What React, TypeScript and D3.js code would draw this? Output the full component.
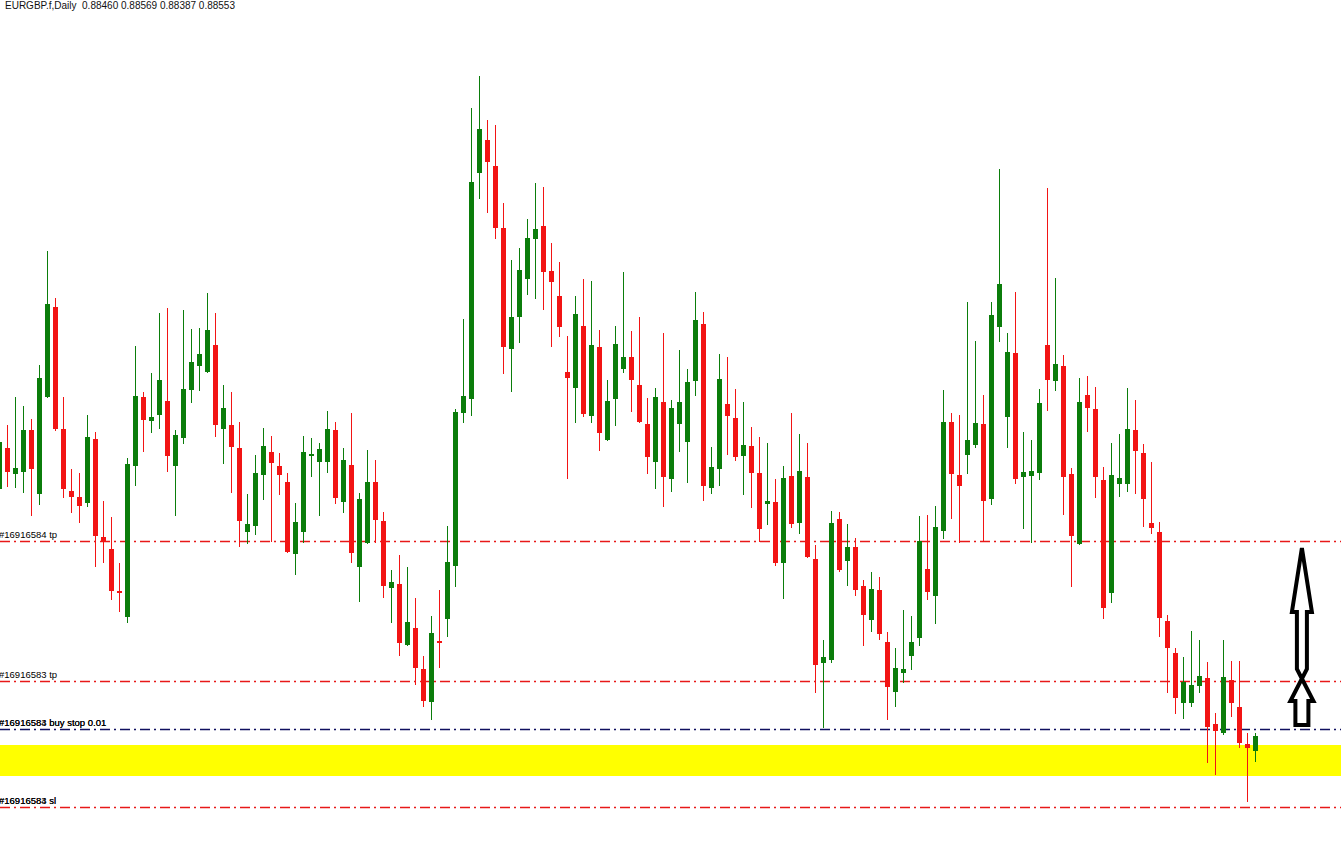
import React from 'react';
import * as d3 from 'd3';

const W = 1341;
const H = 845;

const opens = [0.89755,0.89960,0.89830,0.89840,0.90050,0.89730,0.90215,0.90665,0.90055,0.89745,
0.89715,0.89685,0.90005,0.89515,0.89455,0.89245,0.89115,0.89870,0.90215,0.90095,
0.90125,0.90195,0.89870,0.90010,0.90250,0.90370,0.90340,0.90475,0.90055,0.90075,
0.89960,0.89540,0.89570,0.89825,0.89940,0.89870,0.89790,0.89430,0.89540,0.89920,
0.89890,0.89890,0.90050,0.89690,0.89875,0.89365,0.89485,0.89790,0.89595,0.89260,
0.89280,0.88975,0.89060,0.88855,0.88690,0.88995,0.89105,0.89370,0.90135,0.90205,
0.91335,0.91500,0.91370,0.91060,0.90455,0.90615,0.90805,0.91005,0.91070,0.90845,
0.90720,0.90340,0.90260,0.90570,0.90120,0.90465,0.90000,0.90205,0.90355,0.90415,
0.90275,0.90080,0.89890,0.90190,0.89805,0.90080,0.89990,0.90295,0.90580,0.89760,
0.89855,0.90180,0.90110,0.89920,0.89970,0.89835,0.89680,0.89690,0.89385,0.89820,
0.89585,0.89815,0.89405,0.88885,0.88900,0.89605,0.89395,0.89465,0.89270,0.89100,
0.89250,0.88990,0.88740,0.88835,0.88920,0.89010,0.89355,0.89220,0.89545,0.90090,
0.89825,0.89925,0.89975,0.90080,0.89705,0.90565,0.90115,0.90435,0.89815,0.89820,
0.89835,0.90475,0.90295,0.90370,0.89830,0.89480,0.90225,0.90155,0.89800,0.89235,
0.89780,0.89780,0.90050,0.89935,0.89585,0.89540,0.89095,0.88935,0.88685,0.88685,
0.88770,0.88810,0.88580,0.88535,0.88800,0.88665,0.88480,0.88445];

const highs = [0.90075,0.90075,0.90215,0.90170,0.90105,0.90375,0.90945,0.90710,0.90215,0.89855,
0.89835,0.90125,0.90040,0.89695,0.89615,0.89385,0.89910,0.90470,0.90240,0.90335,
0.90635,0.90660,0.90050,0.90650,0.90555,0.90560,0.90735,0.90635,0.90275,0.90240,
0.90090,0.89730,0.89925,0.90060,0.90020,0.89935,0.89835,0.89685,0.90020,0.90010,
0.89985,0.90145,0.90090,0.89960,0.90135,0.89735,0.89950,0.89900,0.89640,0.89350,
0.89425,0.89365,0.89210,0.88920,0.89120,0.89250,0.89570,0.90155,0.90605,0.91660,
0.91820,0.91600,0.91575,0.91185,0.90900,0.90960,0.91105,0.91285,0.91265,0.90985,
0.90890,0.90520,0.90720,0.90805,0.90795,0.90550,0.90300,0.90570,0.90840,0.90545,
0.90615,0.90210,0.90260,0.90535,0.90200,0.90450,0.90355,0.90740,0.90640,0.89965,
0.90430,0.90415,0.90255,0.90190,0.90065,0.90015,0.89985,0.89805,0.89870,0.90135,
0.90030,0.89985,0.89475,0.89000,0.89645,0.89640,0.89580,0.89510,0.89300,0.89340,
0.89315,0.89040,0.88960,0.89150,0.89120,0.89620,0.89625,0.89670,0.90250,0.90135,
0.90125,0.90690,0.90495,0.90225,0.90690,0.91355,0.90535,0.90740,0.90040,0.90000,
0.90255,0.91260,0.90810,0.90425,0.89860,0.90310,0.90320,0.90265,0.89865,0.89985,
0.90030,0.90260,0.90200,0.89980,0.89890,0.89590,0.89125,0.88960,0.88915,0.89045,
0.89000,0.88890,0.88635,0.89000,0.88895,0.88895,0.88535,0.88535];

const lows = [0.89740,0.89765,0.89760,0.89735,0.89620,0.89675,0.90210,0.90045,0.89710,0.89635,
0.89585,0.89665,0.89365,0.89385,0.89200,0.89140,0.89085,0.89770,0.89940,0.90035,
0.90055,0.89840,0.89620,0.89980,0.90185,0.90245,0.90335,0.90015,0.89880,0.89735,
0.89465,0.89480,0.89525,0.89700,0.89490,0.89725,0.89435,0.89325,0.89485,0.89815,
0.89620,0.89835,0.89680,0.89635,0.89385,0.89190,0.89480,0.89485,0.89210,0.89085,
0.88920,0.88970,0.88775,0.88665,0.88600,0.88860,0.89015,0.89265,0.90085,0.90120,
0.91205,0.91135,0.91005,0.90330,0.90240,0.90485,0.90725,0.90705,0.90650,0.90465,
0.90515,0.89805,0.90085,0.90115,0.90085,0.89945,0.89995,0.90070,0.90335,0.90140,
0.90085,0.89830,0.89755,0.89665,0.89740,0.89940,0.89785,0.90220,0.89695,0.89730,
0.89770,0.89925,0.89895,0.89725,0.89660,0.89490,0.89575,0.89370,0.89205,0.89560,
0.89530,0.89410,0.88735,0.88560,0.88885,0.89340,0.89270,0.89220,0.88970,0.89040,
0.89000,0.88600,0.88665,0.88785,0.88850,0.88970,0.89200,0.89080,0.89505,0.89605,
0.89485,0.89830,0.89960,0.89495,0.89675,0.90490,0.89960,0.89780,0.89555,0.89485,
0.89800,0.90145,0.90245,0.89625,0.89265,0.89475,0.90040,0.89710,0.89105,0.89185,
0.89715,0.89740,0.89730,0.89565,0.89530,0.89015,0.88735,0.88630,0.88605,0.88665,
0.88735,0.88385,0.88325,0.88525,0.88615,0.88460,0.88190,0.88390];

const closes = [0.89990,0.89840,0.89860,0.90050,0.89855,0.90310,0.90680,0.90055,0.89755,0.89715,
0.89670,0.90015,0.89520,0.89490,0.89245,0.89235,0.89880,0.90220,0.90100,0.90115,
0.90300,0.89920,0.90025,0.90255,0.90390,0.90430,0.90550,0.90075,0.90160,0.89965,
0.89595,0.89580,0.89835,0.89970,0.89885,0.89825,0.89440,0.89590,0.89940,0.89930,
0.89955,0.90055,0.89710,0.89900,0.89435,0.89705,0.89790,0.89600,0.89270,0.89290,
0.88985,0.89090,0.88860,0.88695,0.89035,0.88985,0.89390,0.90140,0.90220,0.91290,
0.91555,0.91390,0.91060,0.90465,0.90615,0.90850,0.91010,0.91055,0.90840,0.90790,
0.90565,0.90310,0.90630,0.90130,0.90475,0.90035,0.90195,0.90480,0.90415,0.90300,
0.90090,0.89915,0.90215,0.89815,0.90160,0.90190,0.90290,0.90600,0.89770,0.89865,
0.90305,0.90120,0.89915,0.89975,0.89835,0.89555,0.89695,0.89385,0.89810,0.89580,
0.89845,0.89415,0.88875,0.88915,0.89585,0.89350,0.89465,0.89250,0.89125,0.89255,
0.89030,0.88765,0.88860,0.88855,0.88990,0.89495,0.89240,0.89565,0.90090,0.89830,
0.89770,0.90000,0.90085,0.89695,0.90625,0.90780,0.90440,0.89805,0.89840,0.89845,
0.90185,0.90300,0.90380,0.89815,0.89520,0.90190,0.90160,0.89815,0.89160,0.89825,
0.89810,0.90055,0.89945,0.89705,0.89560,0.89110,0.88960,0.88710,0.88790,0.88775,
0.88820,0.88565,0.88545,0.88815,0.88685,0.88485,0.88460,0.88520];

// Order levels drawn as dash-dot lines
const levelPrices = [0.89495, 0.88795, 0.88555, 0.88165];
const levelLabelsA = ['#16916584 tp', '#16916583 tp', '#16916584 buy stop 0.01', '#16916584 sl'];
const levelLabelsB = ['', '', '#16916583 buy stop 0.01', '#16916583 sl'];
const levelColors = ['#e81818', '#e81818', '#101060', '#e81818'];

// Highlighted support zone
const zoneTop = 0.88475;
const zoneBottom = 0.88320;

const headerText = 'EURGBP.f,Daily  0.88460 0.88569 0.88387 0.88553';

const UP = '#0b7d0b';
const DOWN = '#f21414';

export default function App() {
  const n = closes.length;
  const x = d3.scaleLinear().domain([0, n - 1]).range([-0.5, 8 * (n - 1) - 0.5]);
  const y = d3.scaleLinear().domain([0.922, 0.87975]).range([0, H]);
  const bodyW = 5;
  const fontFamily = '"Liberation Sans", Arial, sans-serif';

  // arrow geometry anchored to the levels
  const ax = x(n - 1 + 5.8);
  const tipY = y(levelPrices[0]) + 7;
  const bottomY = y(levelPrices[2]) - 4;
  const crossY = y(levelPrices[1]) - 4;
  const headBase = tipY + 64;
  const head2Base = crossY + 24;
  const arrowPath = [
    [ax, tipY],
    [ax + 10, headBase],
    [ax + 5, headBase],
    [ax + 5, crossY - 8],
    [ax - 11.5, head2Base],
    [ax - 6.5, head2Base],
    [ax - 6.5, bottomY],
    [ax + 6.5, bottomY],
    [ax + 6.5, head2Base],
    [ax + 11.5, head2Base],
    [ax - 5, crossY - 8],
    [ax - 5, headBase],
    [ax - 10, headBase],
  ];
  const arrowD = d3.line()(arrowPath as [number, number][]) + 'Z';

  return (
    <svg width={W} height={H} style={{ position: 'absolute', left: 0, top: 0, background: '#fff', display: 'block' }}>
      <rect x={0} y={0} width={W} height={H} fill="#fff" />
      <rect x={0} y={y(zoneTop)} width={W} height={y(zoneBottom) - y(zoneTop)} fill="#ffff00" />
      {levelPrices.map((p, i) => (
        <line key={'l' + i} x1={0} x2={W} y1={Math.round(y(p)) + 0.5} y2={Math.round(y(p)) + 0.5}
          stroke={levelColors[i]} strokeWidth={1.5} strokeDasharray="10,4,2,4" />
      ))}
      {levelPrices.map((p, i) => (
        <g key={'t' + i} fontFamily={fontFamily} fontSize={9.5} fill="#000">
          <text x={-1} y={Math.round(y(p)) - 3}>{levelLabelsA[i]}</text>
          {levelLabelsB[i] && <text x={-1} y={Math.round(y(p)) - 3}>{levelLabelsB[i]}</text>}
        </g>
      ))}
      {closes.map((c, i) => {
        const o = opens[i];
        const up = c >= o;
        const col = up ? UP : DOWN;
        const cx = x(i);
        const top = Math.round(y(Math.max(o, c)));
        const bot = Math.round(y(Math.min(o, c)));
        return (
          <g key={'c' + i}>
            <line x1={cx} x2={cx} y1={Math.round(y(highs[i]))} y2={Math.round(y(lows[i]))} stroke={col} strokeWidth={1} />
            <rect x={cx - bodyW / 2} y={top} width={bodyW} height={Math.max(1, bot - top)} fill={col} />
          </g>
        );
      })}
      <path d={arrowD} fill="none" stroke="#000" strokeWidth={4} strokeLinejoin="miter" />
      <text x={5} y={9} fontFamily={fontFamily} fontSize={10} fill="#111" xmlSpace="preserve">{headerText}</text>
    </svg>
  );
}
